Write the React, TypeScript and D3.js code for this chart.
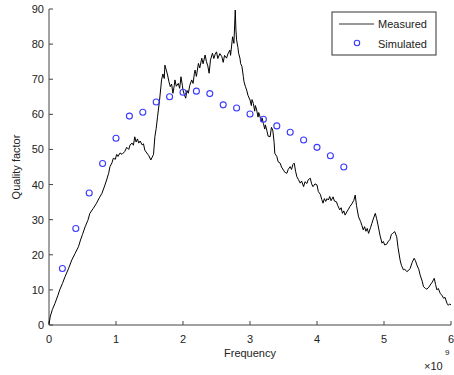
import React from "react";
import * as d3 from "d3";

const measuredFreq = [0,0.02,0.05,0.09,0.13,0.16,0.2,0.24,0.29,0.34,0.39,0.44,0.47,0.5,0.54,0.58,0.61,0.66,0.71,0.75,0.79,0.83,0.86,0.89,0.91,0.94,0.96,0.99,1.01,1.03,1.06,1.09,1.13,1.16,1.19,1.21,1.24,1.26,1.28,1.3,1.32,1.34,1.36,1.39,1.41,1.43,1.46,1.49,1.52,1.54,1.56,1.58,1.6,1.62,1.65,1.68,1.7,1.72,1.73,1.75,1.77,1.79,1.81,1.83,1.85,1.87,1.88,1.9,1.93,1.95,1.97,1.99,2.0,2.02,2.04,2.06,2.08,2.1,2.13,2.15,2.17,2.18,2.2,2.23,2.25,2.28,2.3,2.33,2.35,2.37,2.39,2.41,2.44,2.46,2.48,2.5,2.52,2.55,2.58,2.6,2.62,2.65,2.67,2.7,2.71,2.74,2.76,2.78,2.79,2.8,2.82,2.83,2.85,2.86,2.88,2.9,2.91,2.93,2.95,2.97,3.0,3.02,3.03,3.05,3.07,3.08,3.1,3.12,3.13,3.15,3.17,3.18,3.2,3.22,3.23,3.25,3.27,3.3,3.32,3.34,3.36,3.37,3.4,3.42,3.45,3.47,3.5,3.52,3.55,3.57,3.6,3.62,3.64,3.66,3.68,3.7,3.72,3.75,3.77,3.8,3.82,3.85,3.87,3.9,3.92,3.94,3.97,4.0,4.02,4.05,4.07,4.09,4.11,4.13,4.15,4.17,4.19,4.21,4.24,4.26,4.29,4.31,4.34,4.36,4.38,4.4,4.42,4.45,4.47,4.49,4.52,4.55,4.57,4.59,4.62,4.65,4.67,4.69,4.71,4.73,4.75,4.77,4.8,4.82,4.84,4.87,4.89,4.91,4.94,4.97,4.99,5.01,5.04,5.06,5.09,5.11,5.13,5.16,5.19,5.21,5.24,5.26,5.29,5.31,5.34,5.37,5.39,5.42,5.45,5.47,5.49,5.52,5.54,5.57,5.59,5.62,5.64,5.67,5.69,5.72,5.75,5.77,5.79,5.81,5.84,5.87,5.89,5.91,5.94,5.96,5.98,6.0];
const measuredQ = [0.3,2.5,4.4,6.2,8.3,10,11.8,13.8,16.0,18.5,20.4,22.3,24.2,25.8,28,29.8,31.8,33.2,34.7,36.2,37.5,39.6,41.3,43.2,45.1,46.2,47.5,47.2,48.6,48.0,49.0,48.6,49.4,50.6,50.0,51.3,51.8,51.2,53.6,52.1,53.0,51.8,52.4,51.3,51.6,49.8,49.0,48.2,47.0,47.8,48.6,53.6,56,59.3,64,69.8,71.5,70.2,74,72.6,71.2,69.3,67.9,68.6,66,68.2,69.8,68.0,68.8,67.4,70.7,68.3,66.9,65.6,64.6,66.8,66,68.2,69.8,68.8,71.6,72.6,70.8,74.5,73.2,76,74.4,76.9,75.0,73.8,71.7,75.5,77.4,75.9,77.1,77.8,75.9,77.3,76.4,74.8,76.8,76,77.2,78.3,76.8,82.1,80.2,89.7,84,81.2,79.0,77.4,76.0,74.5,73.6,70.8,69.3,68.0,66.9,65.4,64.1,62.5,64.2,63.1,60.9,62.5,61.2,59.2,60.5,59.3,57.8,59.0,57.4,55.8,57.0,55.5,53.8,53.6,56.3,55.5,52.0,48.9,48.0,46.5,46.1,45.0,44.1,43.5,43.2,44.3,45.1,44.3,45.7,46.1,43.8,42.2,41.5,40.4,41.0,39.4,40.8,40.3,41.4,41.8,40.2,39.4,40.2,39.9,38.0,37.2,35.8,34.7,36.0,35.2,36.0,35.6,36.6,35.4,36.5,35.3,35.1,34.0,32.8,33.4,31.8,32.5,31.3,32.4,33.0,33.7,34.5,35.5,37.0,34.0,30.8,29.5,28.4,27.1,28.0,26.7,27.5,26.1,27.8,29,30.2,31.8,30.3,28.5,25.6,23.3,23.8,22.8,23.0,23.7,24.4,25.8,26.1,26.6,25.1,22,18.5,17.0,15.7,15.9,15.2,15.6,16.1,17.8,19,18.3,17.1,15.8,14.2,12.5,10.9,10.4,10.2,10.8,11.4,12.2,13.3,11.5,10.0,10.4,9.0,8.3,7.6,7.9,6.2,5.6,6.0,5.7];

const simFreq = [0.2,0.4,0.6,0.8,1.0,1.2,1.4,1.6,1.8,2.0,2.2,2.4,2.6,2.8,3.0,3.2,3.4,3.6,3.8,4.0,4.2,4.4];
const simQ = [16.1,27.5,37.6,46.0,53.2,59.5,60.6,63.5,65.0,66.3,66.6,65.9,62.7,61.8,60.1,58.6,56.7,54.9,52.7,50.6,48.2,45.0];

const xTicks = [0,1,2,3,4,5,6];
const yTicks = [0,10,20,30,40,50,60,70,80,90];
const legendLabels = ["Measured", "Simulated"];

export default function App() {
  const W = 454, H = 375;
  const left = 49, right = 451, top = 9, bottom = 325;
  const x = d3.scaleLinear().domain([0, 6]).range([left, right]);
  const y = d3.scaleLinear().domain([0, 90]).range([bottom, top]);
  const line = d3.line<number>().x((_, i) => x(measuredFreq[i])).y((d) => y(d));
  const axisColor = "#444";
  const font = "'Liberation Sans', Arial, sans-serif";
  const lx = 332, ly = 12, lw = 104, lh = 43;
  return (
    <svg width={W} height={H} style={{ position: "absolute", left: 0, top: 0, background: "#fff" }} fontFamily={font}>
      <rect x={0} y={0} width={W} height={H} fill="#fff" />
      {/* axes */}
      <line x1={left} y1={bottom} x2={right} y2={bottom} stroke={axisColor} strokeWidth={1} />
      <line x1={left} y1={bottom} x2={left} y2={top} stroke={axisColor} strokeWidth={1} />
      {xTicks.map((t) => (
        <g key={"x" + t}>
          <line x1={x(t)} x2={x(t)} y1={bottom} y2={bottom - 4} stroke={axisColor} />
          <text x={x(t)} y={bottom + 18} fontSize={11} textAnchor="middle" fill="#222">{t}</text>
        </g>
      ))}
      {yTicks.map((t) => (
        <g key={"y" + t}>
          <line x1={left} x2={left + 4} y1={y(t)} y2={y(t)} stroke={axisColor} />
          <text x={left - 5} y={y(t) + 4} fontSize={11} textAnchor="end" fill="#222">{t}</text>
        </g>
      ))}
      <text x={250} y={357} fontSize={11} textAnchor="middle" fill="#222">Frequency</text>
      <text x={20} y={167} fontSize={11} textAnchor="middle" fill="#222" transform="rotate(-90,20,167)">Quality factor</text>
      <text x={424} y={370} fontSize={11} fill="#222">×10</text>
      <text x={445} y={355} fontSize={8} fill="#222">9</text>
      {/* data */}
      <path d={line(measuredQ) || ""} fill="none" stroke="#000" strokeWidth={1} strokeLinejoin="round" />
      {simQ.map((q, i) => (
        <circle key={i} cx={x(simFreq[i])} cy={y(q)} r={3} fill="none" stroke="#3a3aff" strokeWidth={1.1} />
      ))}
      {/* legend */}
      <rect x={lx} y={ly} width={lw} height={lh} fill="#fff" stroke="#333" strokeWidth={1} />
      <line x1={339} x2={374} y1={24} y2={24} stroke="#333" strokeWidth={1} />
      <text x={378} y={28} fontSize={11} fill="#222">{legendLabels[0]}</text>
      <circle cx={357} cy={43} r={2.7} fill="none" stroke="#3a3aff" strokeWidth={1.1} />
      <text x={378} y={48} fontSize={11} fill="#222">{legendLabels[1]}</text>
    </svg>
  );
}
